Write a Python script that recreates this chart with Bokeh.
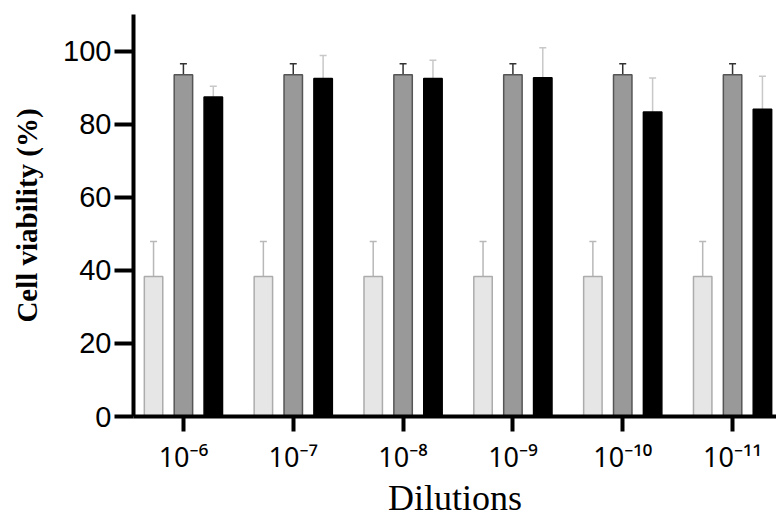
from bokeh.plotting import figure
from bokeh.models import ColumnDataSource, Range1d, FixedTicker, Whisker, TeeHead
from bokeh.transform import dodge
from bokeh.embed import file_html
from bokeh.resources import INLINE

# data
dilutions = ["10⁻⁶", "10⁻⁷", "10⁻⁸", "10⁻⁹", "10⁻¹⁰", "10⁻¹¹"]
pos = [0, 1, 2, 3, 4, 5]
s1_mean = [38.3, 38.3, 38.3, 38.3, 38.3, 38.3]
s1_err = [9.6, 9.6, 9.6, 9.6, 9.6, 9.6]
s2_mean = [93.5, 93.5, 93.5, 93.5, 93.5, 93.5]
s2_err = [3.0, 3.0, 3.0, 3.0, 3.0, 3.0]
s3_mean = [87.4, 92.5, 92.5, 92.7, 83.3, 84.1]
s3_err = [3.0, 6.3, 5.0, 8.2, 9.3, 9.0]
y_ticks = [0, 20, 40, 60, 80, 100]

src = ColumnDataSource(dict(
    x=pos,
    m1=s1_mean, lo1=[m - e for m, e in zip(s1_mean, s1_err)], hi1=[m + e for m, e in zip(s1_mean, s1_err)],
    m2=s2_mean, lo2=[m - e for m, e in zip(s2_mean, s2_err)], hi2=[m + e for m, e in zip(s2_mean, s2_err)],
    m3=s3_mean, lo3=[m - e for m, e in zip(s3_mean, s3_err)], hi3=[m + e for m, e in zip(s3_mean, s3_err)],
))

p = figure(width=776, height=520, output_backend="svg", toolbar_location=None,
           x_range=Range1d(-0.4545, 5.4), y_range=Range1d(0, 110),
           min_border_left=133, min_border_right=0, min_border_top=14, min_border_bottom=102)
p.outline_line_color = None
p.grid.visible = False

off = 0.272
w = 0.168
styles = [
    ("m1", "lo1", "hi1", -off, "#e6e6e6", "#acacac", "#b8b8b8"),
    ("m2", "lo2", "hi2", 0.0, "#999999", "#555555", "#333333"),
    ("m3", "lo3", "hi3", off, "#000000", "#000000", "#c8c8c8"),
]
for m, lo, hi, o, fill, line, ecol in styles:
    p.vbar(x=dodge("x", o), top=m, bottom=0, width=w, source=src,
           fill_color=fill, line_color=line, line_width=1.5)
    wh = Whisker(base=dodge("x", o), lower=lo, upper=hi, source=src,
                 line_color=ecol, line_width=1.5,
                 upper_head=TeeHead(size=7, line_color=ecol, line_width=1.5),
                 lower_head=TeeHead(size=7, line_color=ecol, line_width=1.5))
    p.add_layout(wh)

# axes
p.xaxis.ticker = FixedTicker(ticks=pos)
p.xaxis.major_label_overrides = {i: lab for i, lab in zip(pos, dilutions)}
p.xaxis.minor_tick_line_color = None
p.yaxis.minor_tick_line_color = None
p.yaxis.ticker = FixedTicker(ticks=y_ticks)

for ax in (p.xaxis[0], p.yaxis[0]):
    ax.axis_line_width = 4
    ax.axis_line_color = "black"
    ax.major_tick_line_width = 4
    ax.major_tick_line_color = "black"
    ax.major_tick_in = 0
    ax.major_label_text_color = "black"
    ax.axis_label_text_color = "black"

p.yaxis.major_tick_out = 19
p.yaxis.major_label_text_font = "Liberation Sans"
p.yaxis.major_label_text_font_size = "29px"
p.yaxis.major_label_standoff = 3

p.xaxis.major_tick_out = 15
p.xaxis.major_label_text_font = "Noto Sans"
p.xaxis.major_label_text_font_size = "27px"
p.xaxis.major_label_standoff = 6

p.yaxis.axis_label = "Cell viability (%)"
p.yaxis.axis_label_text_font = "Liberation Serif"
p.yaxis.axis_label_text_font_style = "bold"
p.yaxis.axis_label_text_font_size = "29px"
p.yaxis.axis_label_standoff = 17

p.xaxis.axis_label = "Dilutions"
p.xaxis.axis_label_text_font = "Liberation Serif"
p.xaxis.axis_label_text_font_style = "normal"
p.xaxis.axis_label_text_font_size = "36px"
p.xaxis.axis_label_standoff = 0

open("out.html", "w").write(file_html(p, INLINE))
